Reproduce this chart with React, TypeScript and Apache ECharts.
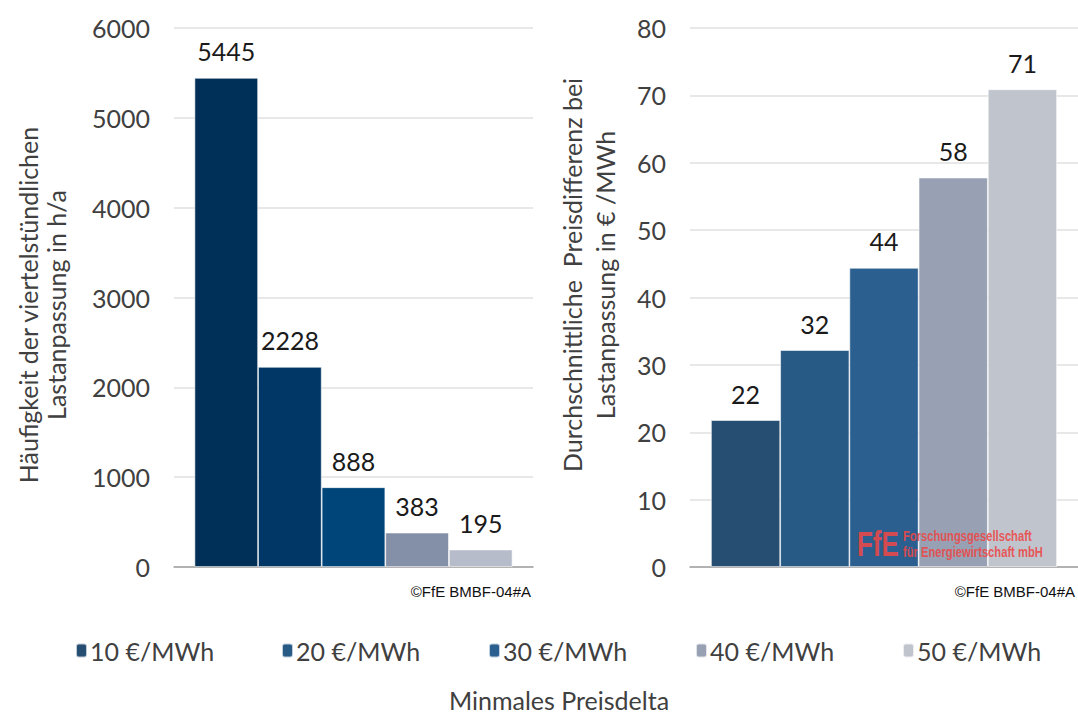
import React, { useEffect, useRef } from "react";
import * as echarts from "echarts";

const seriesNames = ["10 €/MWh", "20 €/MWh", "30 €/MWh", "40 €/MWh", "50 €/MWh"];
const hoursValues = [5445, 2228, 888, 383, 195];
const priceValues = [21.8, 32.2, 44.4, 57.8, 70.9];
const leftColors = ["#002f57", "#003766", "#00457a", "#8490a8", "#b6bcc9"];
const rightColors = ["#264d72", "#285a86", "#2a5f8f", "#98a0b3", "#c0c4cd"];
const leftTicks = { min: 0, max: 6000, interval: 1000 };
const rightTicks = { min: 0, max: 80, interval: 10 };
const legendLefts = [70, 276, 483, 690, 897];

const FONT = "Lato, 'Noto Sans', sans-serif";

export default function App() {
  const ref = useRef<HTMLDivElement>(null);
  useEffect(() => {
    if (!ref.current) return;
    const chart = echarts.init(ref.current, undefined, { renderer: "svg" });
    const series: any[] = [];
    const labelStyle = {
      show: true,
      position: "top",
      distance: 14,
      fontFamily: FONT,
      fontSize: 25,
      color: "#1a1a1a",
      formatter: (p: any) => String(Math.round(p.value)),
    };
    seriesNames.forEach((name, i) => {
      series.push({
        type: "bar",
        name,
        xAxisIndex: 0,
        yAxisIndex: 0,
        barGap: "0%",
        barCategoryGap: "11.4%",
        data: [hoursValues[i]],
        itemStyle: { color: leftColors[i], borderColor: "rgba(255,255,255,0.7)", borderWidth: 0.8 },
        label: labelStyle,
      });
    });
    seriesNames.forEach((name, i) => {
      series.push({
        type: "bar",
        name,
        xAxisIndex: 1,
        yAxisIndex: 1,
        barGap: "0%",
        barCategoryGap: "10.8%",
        data: [priceValues[i]],
        itemStyle: { color: rightColors[i], borderColor: "rgba(255,255,255,0.7)", borderWidth: 0.8 },
        label: labelStyle,
      });
    });

    const yAxisCommon = {
      type: "value",
      axisLine: { show: false },
      axisTick: { show: false },
      axisLabel: {
        fontFamily: FONT,
        fontSize: 25,
        color: "#404040",
        margin: 24,
        formatter: (v: number) => String(v),
      },
      splitLine: { lineStyle: { color: "#e0e0e0", width: 1.5 } },
    };
    const xAxisCommon = {
      type: "category",
      data: [""],
      axisLine: { lineStyle: { color: "#a0a0a0", width: 1.5 } },
      axisTick: { show: false },
      axisLabel: { show: false },
    };

    const redStyle = {
      fontFamily: "'Liberation Sans', Arial, sans-serif",
      fontWeight: "bold",
      fill: "rgba(236,72,72,0.9)",
      align: "left",
      verticalAlign: "middle",
    };

    chart.setOption({
      animation: false,
      grid: [
        { left: 174, top: 28, width: 359, height: 539 },
        { left: 690, top: 28, width: 388, height: 539 },
      ],
      xAxis: [
        { ...xAxisCommon, gridIndex: 0 },
        { ...xAxisCommon, gridIndex: 1 },
      ],
      yAxis: [
        { ...yAxisCommon, gridIndex: 0, ...leftTicks },
        { ...yAxisCommon, gridIndex: 1, ...rightTicks },
      ],
      legend: seriesNames.map((name, i) => ({
        left: legendLefts[i],
        top: 633,
        itemWidth: 11,
        itemHeight: 14,
        itemGap: 0,
        selectedMode: false,
        textStyle: { fontFamily: FONT, fontSize: 25, color: "#404040", padding: [0, 0, 0, -2] },
        data: [{ name, itemStyle: { color: rightColors[i] } }],
      })),
      graphic: [
        {
          type: "text",
          x: 42,
          y: 305,
          rotation: Math.PI / 2,
          style: {
            text: "Häufigkeit der viertelstündlichen\nLastanpassung in h/a",
            fontFamily: FONT,
            fontSize: 25,
            lineHeight: 28,
            fill: "#404040",
            align: "center",
            verticalAlign: "middle",
          },
        },
        {
          type: "text",
          x: 588,
          y: 275,
          rotation: Math.PI / 2,
          style: {
            text: "Durchschnittliche  Preisdifferenz bei\nLastanpassung in € /MWh",
            fontFamily: FONT,
            fontSize: 25,
            lineHeight: 33,
            fill: "#404040",
            align: "center",
            verticalAlign: "middle",
          },
        },
        {
          type: "text",
          x: 559,
          y: 700,
          style: {
            text: "Minmales Preisdelta",
            fontFamily: FONT,
            fontSize: 25,
            fill: "#404040",
            align: "center",
            verticalAlign: "middle",
          },
        },
        {
          type: "text",
          x: 531,
          y: 591,
          style: {
            text: "©FfE BMBF-04#A",
            fontFamily: "'Liberation Sans', Arial, sans-serif",
            fontSize: 15,
            fill: "#111",
            align: "right",
            verticalAlign: "middle",
          },
        },
        {
          type: "text",
          x: 1075,
          y: 591,
          style: {
            text: "©FfE BMBF-04#A",
            fontFamily: "'Liberation Sans', Arial, sans-serif",
            fontSize: 15,
            fill: "#111",
            align: "right",
            verticalAlign: "middle",
          },
        },
        {
          type: "group",
          z: 100,
          children: [
            { type: "text", z: 100, x: 857, y: 544, scaleX: 0.72, style: { ...redStyle, text: "FfE", fontSize: 36 } },
            { type: "text", z: 100, x: 903, y: 537, scaleX: 0.8, style: { ...redStyle, text: "Forschungsgesellschaft", fontSize: 14 } },
            { type: "text", z: 100, x: 903, y: 553, scaleX: 0.8, style: { ...redStyle, text: "für Energiewirtschaft mbH", fontSize: 14 } },
          ],
        },
      ],
      series,
    });
    return () => chart.dispose();
  }, []);
  return <div ref={ref} style={{ width: 1078, height: 718, position: "absolute", left: 0, top: 0 }} />;
}
